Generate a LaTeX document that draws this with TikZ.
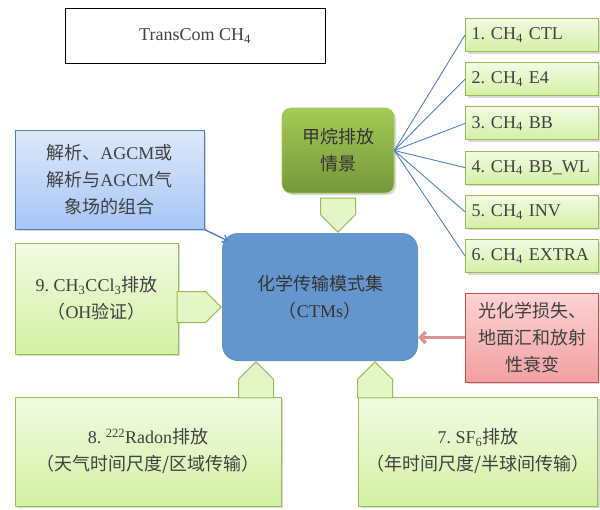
\documentclass[tikz,border=0pt]{standalone}
\usepackage{fontspec}
\setmainfont{Liberation Serif}
\newfontfamily\cjk{Noto Sans CJK SC}
\usepackage{xcolor}
\usetikzlibrary{positioning,calc,shapes.arrows,shadows,arrows.meta}
\newcommand{\zh}[1]{{\cjk #1}}
\definecolor{txtgray}{HTML}{404040}
\definecolor{greenline}{HTML}{9BBB59}
\definecolor{greentop}{HTML}{F2FBE3}
\definecolor{greenbot}{HTML}{D3F0A3}
\definecolor{arrowfill}{HTML}{E3F6C6}
\definecolor{methtop}{HTML}{A3CB55}
\definecolor{methbot}{HTML}{76963A}
\definecolor{blueline}{HTML}{4F81BD}
\definecolor{bluetop}{HTML}{DDE8FA}
\definecolor{bluebot}{HTML}{A6C6F6}
\definecolor{ctmfill}{HTML}{6496CD}
\definecolor{redline}{HTML}{C0504D}
\definecolor{redtop}{HTML}{FBD3D3}
\definecolor{redbot}{HTML}{F3A0A0}
\definecolor{redarrow}{HTML}{D99694}
\frenchspacing

\begin{document}
\begin{tikzpicture}[x=1pt,y=-1pt,node distance=10.2pt,
   every node/.style={font=\fontsize{18}{27}\selectfont,text=txtgray,align=center},
   boxshadow/.style={drop shadow={opacity=0.3,shadow xshift=2pt,shadow yshift=-2pt}},
   greenbox/.style={rectangle,draw=greenline,line width=1pt,top color=greentop,bottom color=greenbot,boxshadow},
   casebox/.style={greenbox,minimum height=33pt,text width=121pt,inner xsep=6pt,align=left},
   fatarrow/.style={single arrow,draw=greenline,line width=1pt,fill=arrowfill,inner sep=0pt,
      inner ysep=9pt,single arrow head extend=0pt,minimum width=35pt,anchor=tip},
   fanline/.style={draw=blueline,line width=0.9pt}]
   \useasboundingbox (0,0) rectangle (600,509);

   \node[draw=black,line width=1pt,fill=white,minimum width=260pt,minimum height=55pt] (title) at (195,36) {TransCom CH\textsubscript{4}};

   % emission cases
   \node[casebox] (c1) at (532,35) {1. CH\textsubscript{4} CTL};
   \node[casebox] (c2) [below=of c1] {2. CH\textsubscript{4} E4};
   \node[casebox] (c3) [below=of c2] {3. CH\textsubscript{4} BB};
   \node[casebox] (c4) [below=of c3] {4. CH\textsubscript{4} BB\_WL};
   \node[casebox] (c5) [below=of c4] {5. CH\textsubscript{4} INV};
   \node[casebox] (c6) [below=of c5] {6. CH\textsubscript{4} EXTRA};

   \node[rounded corners=9pt,draw=methtop,line width=0.6pt,top color=methtop,bottom color=methbot,boxshadow,text=black!80,minimum width=112pt,minimum height=85pt] (meth) at (338,150.5) {\zh{甲烷排放}\\\zh{情景}};

   \node[rectangle,draw=blueline,line width=1pt,top color=bluetop,bottom color=bluebot,boxshadow,minimum width=189pt,minimum height=99pt] (agcm) at (109.5,179.5) {\zh{解析、}AGCM\zh{或}\\\zh{解析与}AGCM\zh{气}\\\zh{象场的组合}};

   \node[rounded corners=16pt,fill=ctmfill,text=black!80,minimum width=196pt,minimum height=128pt] (ctm) at (320,297) {\zh{化学传输模式集}\\\zh{（}CTMs\zh{）}};

   \node[greenbox,minimum width=163pt,minimum height=111pt] (ch3) at (96.5,298.5) {9. CH\textsubscript{3}CCl\textsubscript{3}\zh{排放}\\\zh{（}OH\zh{验证）}};

   \node[rectangle,draw=redline,line width=1pt,top color=redtop,bottom color=redbot,boxshadow,minimum width=133pt,minimum height=89pt] (loss) at (532,337.5) {\zh{光化学损失、}\\\zh{地面汇和放射}\\\zh{性衰变}};

   \node[greenbox,minimum width=266pt,minimum height=109pt] (radon) at (148,451.5) {8. \textsuperscript{222}Radon\zh{排放}\\\zh{（天气时间尺度/区域传输）}};
   \node[greenbox,minimum width=239pt,minimum height=109pt] (sf6) at (478,451.5) {7. SF\textsubscript{6}\zh{排放}\\\zh{（年时间尺度/半球间传输）}};

   \path[fanline]
    (meth.east) edge (c1.west)
                edge (c2.west)
                edge (c3.west)
                edge (c4.west)
                edge (c5.west)
                edge (c6.west);

   % block arrows into the CTMs
   \node[fatarrow,rotate=-90,minimum height=34pt] (a1) at (ctm.north -| meth.south) {};
   \node[fatarrow,minimum height=44pt,minimum width=31pt] (a2) at ($(ctm.west)+(0,10)$) {};
   \node[fatarrow,rotate=90,minimum height=36pt] (a3) at ($(ctm.south)+(-64,0)$) {};
   \node[fatarrow,rotate=90,minimum height=36pt] (a4) at ($(ctm.south)+(55,0)$) {};

   \draw[-{Straight Barb[length=4pt,width=8pt]},blueline,line width=1.4pt] (agcm.south east) -- ($(ctm.north west)+(6,8)$);
   \draw[-{Straight Barb[length=5pt,width=11pt]},redarrow,line width=3.5pt] (loss.west) -- (loss.west -| ctm.east);
\end{tikzpicture}
\end{document}
